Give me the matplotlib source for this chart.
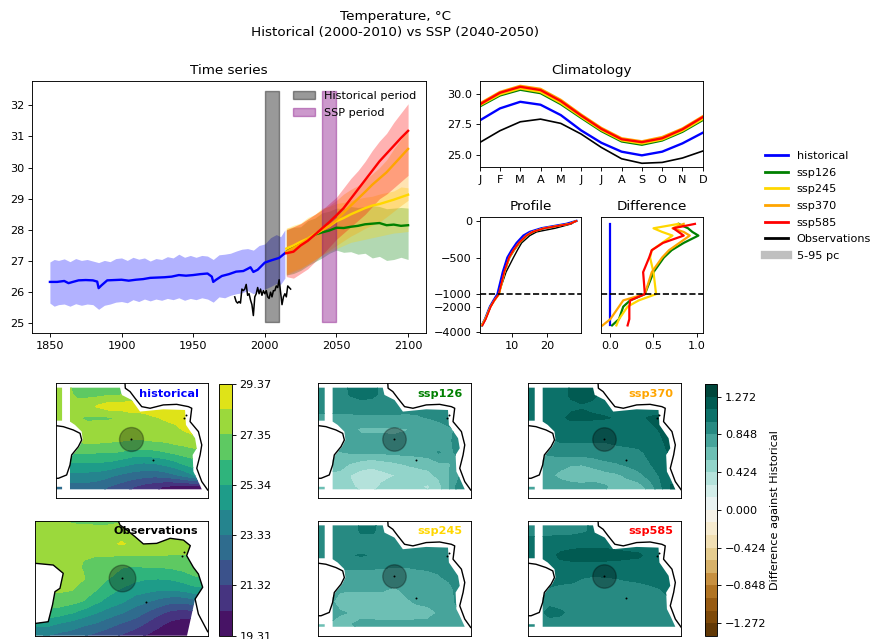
import numpy as np
import matplotlib
matplotlib.use('Agg')
import matplotlib.pyplot as plt
from matplotlib.path import Path
from matplotlib.lines import Line2D

W, H = 872, 639

# the reference was drawn at a bigger size and shrunk, so everything sits a bit under the defaults
plt.rcParams.update({
    'font.size': 8.1, 'axes.titlesize': 9.7, 'axes.linewidth': 0.65,
    'xtick.major.size': 2.8, 'ytick.major.size': 2.8, 'xtick.major.width': 0.65, 'ytick.major.width': 0.65,
    'xtick.major.pad': 2.8, 'ytick.major.pad': 2.8, 'axes.titlepad': 4.9,
})

scenarios = ['historical', 'ssp126', 'ssp245', 'ssp370', 'ssp585']
colors = {'historical': 'blue', 'ssp126': 'green', 'ssp245': 'gold', 'ssp370': 'orange', 'ssp585': 'red'}

# Time series
hist_years = [1850, 1855, 1860, 1863, 1866, 1870, 1875, 1880, 1883, 1884, 1886, 1890, 1895, 1900, 1905, 1910,
              1915, 1920, 1925, 1930, 1935, 1940, 1945, 1950, 1955, 1960, 1963, 1964, 1966, 1970, 1975, 1980,
              1985, 1988, 1990, 1992, 1995, 2000, 2005, 2010, 2014]
hist_mean = [26.33, 26.33, 26.36, 26.29, 26.33, 26.38, 26.39, 26.38, 26.34, 26.13, 26.22, 26.38, 26.39, 26.4, 26.37, 26.4,
             26.42, 26.46, 26.47, 26.48, 26.5, 26.55, 26.53, 26.55, 26.58, 26.6, 26.5, 26.33, 26.4, 26.52, 26.58, 26.66,
             26.68, 26.75, 26.8, 26.65, 26.72, 26.95, 27.03, 27.1, 27.25]
band_years = [1850, 1853, 1856, 1860, 1864, 1868, 1872, 1876, 1880, 1884, 1888, 1892, 1896, 1900, 1904, 1908, 1912,
              1916, 1920, 1924, 1928, 1932, 1936, 1940, 1944, 1948, 1952, 1956, 1960, 1964, 1968, 1972, 1976, 1980,
              1984, 1988, 1992, 1996, 2000, 2004, 2008, 2011, 2014]
hist_up = [26.97, 27.05, 27.02, 27.07, 26.98, 27.08, 27.02, 27.05, 27.0, 26.95, 27.02, 26.98, 27.08, 27.1, 27.02, 27.12, 27.06,
           27.1, 27.0, 27.08, 27.05, 27.14, 27.1, 27.22, 27.12, 27.18, 27.12, 27.18, 27.16, 27.05, 27.2, 27.22, 27.25, 27.32,
           27.38, 27.4, 27.35, 27.5, 27.55, 27.75, 27.85, 27.78, 28.0]
hist_low = [25.65, 25.55, 25.6, 25.62, 25.55, 25.63, 25.58, 25.62, 25.6, 25.45, 25.58, 25.62, 25.68, 25.7, 25.66, 25.76, 25.7,
            25.78, 25.72, 25.78, 25.74, 25.8, 25.76, 25.82, 25.74, 25.8, 25.76, 25.82, 25.78, 25.68, 25.85, 25.82, 25.9, 25.95,
            25.98, 26.05, 25.95, 26.05, 26.1, 26.18, 26.28, 26.25, 26.45]
ssp_years = [2015, 2020, 2025, 2030, 2035, 2040, 2045, 2050, 2055, 2060, 2065, 2070, 2075, 2080, 2085, 2090, 2095, 2100]
ssp_mean = {
    'ssp126': [27.3, 27.45, 27.55, 27.7, 27.85, 27.92, 27.98, 28.07, 28.06, 28.1, 28.13, 28.18, 28.2, 28.22, 28.15, 28.17, 28.13, 28.15],
    'ssp245': [27.4, 27.5, 27.62, 27.72, 27.87, 28.0, 28.12, 28.28, 28.38, 28.5, 28.6, 28.7, 28.78, 28.83, 28.9, 28.97, 29.05, 29.13],
    'ssp370': [27.3, 27.42, 27.55, 27.7, 27.85, 28.0, 28.13, 28.32, 28.55, 28.78, 29.0, 29.22, 29.45, 29.65, 29.85, 30.1, 30.35, 30.6],
    'ssp585': [27.25, 27.3, 27.5, 27.65, 27.85, 28.05, 28.25, 28.47, 28.7, 29.0, 29.3, 29.6, 29.9, 30.2, 30.45, 30.7, 30.95, 31.18],
}
ssp_up = {
    'ssp126': [28.0, 28.08, 28.1, 28.3, 28.38, 28.55, 28.6, 28.7, 28.68, 28.75, 28.72, 28.75, 28.78, 28.75, 28.68, 28.7, 28.72, 28.7],
    'ssp245': [28.05, 28.15, 28.22, 28.4, 28.5, 28.7, 28.75, 28.85, 28.88, 28.95, 29.0, 29.05, 29.08, 29.15, 29.2, 29.25, 29.38, 29.35],
    'ssp370': [28.05, 28.1, 28.2, 28.35, 28.5, 28.65, 28.78, 28.95, 29.15, 29.3, 29.42, 29.6, 29.8, 30.0, 30.25, 30.6, 30.9, 31.25],
    'ssp585': [28.0, 28.1, 28.2, 28.35, 28.5, 28.65, 28.85, 29.05, 29.35, 29.65, 29.9, 30.2, 30.55, 30.85, 31.1, 31.45, 31.75, 32.05],
}
ssp_low = {
    'ssp126': [26.55, 26.6, 26.7, 26.85, 26.98, 27.1, 27.25, 27.35, 27.28, 27.3, 27.22, 27.25, 27.1, 27.15, 27.02, 27.05, 27.12, 27.05],
    'ssp245': [26.6, 26.7, 26.78, 26.9, 27.05, 27.2, 27.3, 27.4, 27.5, 27.6, 27.65, 27.7, 27.75, 27.8, 27.85, 27.9, 27.92, 27.95],
    'ssp370': [26.55, 26.65, 26.75, 26.9, 27.05, 27.2, 27.35, 27.5, 27.65, 27.8, 27.92, 28.05, 28.15, 28.25, 28.42, 28.6, 28.78, 28.95],
    'ssp585': [26.5, 26.45, 26.6, 26.75, 26.98, 27.2, 27.45, 27.7, 27.9, 28.1, 28.3, 28.5, 28.75, 29.0, 29.15, 29.35, 29.55, 29.75],
}
obs_years = list(range(1979, 2019))
obs_series = [25.85, 25.7, 25.65, 25.7, 25.65, 26.1, 26.05, 26.1, 26.25, 25.9, 25.95, 25.75, 25.6, 25.25, 25.85, 25.95,
              26.15, 25.95, 26.1, 25.9, 26.05, 25.95, 26.05, 25.85, 25.8, 26.0, 25.85, 26.05, 26.05, 26.2, 26.15, 26.4,
              26.0, 25.6, 25.85, 25.95, 25.85, 26.2, 26.15, 26.1]
hist_period = [2000, 2010]
ssp_period = [2040, 2050]
period_bottom, period_top = 25.03, 32.45

# Climatology
months = ['J', 'F', 'M', 'A', 'M', 'J', 'J', 'A', 'S', 'O', 'N', 'D']
clim = {
    'historical': [27.81, 28.8, 29.34, 29.1, 28.25, 27.0, 25.98, 25.25, 24.95, 25.25, 25.93, 26.8],
    'ssp126': [28.96, 29.86, 30.33, 30.05, 29.15, 28.03, 26.94, 26.09, 25.82, 26.17, 26.88, 27.84],
    'ssp245': [29.05, 29.95, 30.43, 30.15, 29.25, 28.12, 27.03, 26.18, 25.92, 26.25, 26.97, 27.93],
    'ssp370': [29.2, 30.15, 30.65, 30.4, 29.5, 28.3, 27.2, 26.35, 26.1, 26.45, 27.15, 28.15],
    'ssp585': [29.12, 30.08, 30.57, 30.3, 29.4, 28.22, 27.12, 26.27, 26.03, 26.35, 27.08, 28.08],
}
clim_obs = [26.0, 26.97, 27.7, 27.92, 27.57, 26.7, 25.6, 24.67, 24.3, 24.37, 24.73, 25.3]

# Profiles
depth = [-40, -100, -150, -200, -300, -400, -500, -700, -1000, -1500, -2000, -3000, -3500]
prof_hist = [25.4, 18.4, 15.1, 13.3, 11.4, 10.0, 8.8, 7.5, 6.0, 4.9, 3.9, 2.5, 1.6]
prof_obs = [26.8, 22.2, 17.0, 15.1, 12.8, 11.6, 10.5, 8.4, 6.3, 5.0, 3.9, 2.5, 1.5]
surf_hist, surf_obs = 28.2, 28.0
diff = {
    'historical': [0, 0, 0, 0, 0, 0, 0, 0, 0, 0, 0, 0, 0],
    'ssp126': [0.79, 0.9, 0.95, 1.02, 0.85, 0.71, 0.62, 0.5, 0.4, 0.23, 0.15, 0.1, 0.02],
    'ssp245': [0.79, 0.5, 0.6, 0.72, 0.6, 0.48, 0.46, 0.5, 0.53, 0.33, 0.2, 0.1, 0.07],
    'ssp370': [0.85, 0.72, 0.85, 0.92, 0.8, 0.68, 0.6, 0.48, 0.4, 0.15, 0.1, 0.0, -0.09],
    'ssp585': [0.98, 0.73, 0.79, 0.85, 0.61, 0.48, 0.45, 0.38, 0.4, 0.23, 0.22, 0.22, 0.2],
}

# Map fields, rows run north to south on map_y
map_x = [0, .07, .14, .21, .28, .35, .42, .5, .58, .65, .72, .79, .86, .93, 1]
map_y = [1, .9, .8, .7, .6, .5, .4, .3, .2, .1, 0]
field_hist = [
    [27.5, 27.5, 27.1, 27.0, 27.0, 27.1, 27.2, 27.5, 27.9, 28.0, 28.0, 28.0, 28.0, 28.0, 28.0],
    [27.6, 27.6, 27.2, 27.1, 27.1, 27.3, 27.3, 27.6, 27.9, 28.0, 28.0, 28.0, 28.0, 28.0, 28.0],
    [27.7, 27.7, 27.7, 28.0, 28.5, 28.9, 28.9, 28.9, 28.9, 28.9, 28.9, 28.9, 28.9, 28.9, 28.9],
    [27.6, 27.6, 27.4, 27.25, 27.25, 27.25, 27.4, 27.9, 28.0, 28.3, 28.45, 28.6, 28.7, 28.7, 28.7],
    [27.3, 27.3, 27.5, 27.6, 27.7, 27.8, 27.9, 27.9, 28.0, 28.0, 28.1, 28.2, 28.5, 28.6, 28.6],
    [27.0, 27.0, 27.5, 27.6, 27.6, 27.5, 27.4, 27.3, 27.3, 27.4, 27.5, 27.7, 27.9, 28.2, 28.2],
    [26.4, 26.4, 26.5, 26.5, 26.4, 26.4, 26.3, 26.0, 26.0, 26.1, 26.3, 26.6, 26.8, 27.0, 27.0],
    [25.2, 25.2, 25.2, 25.2, 25.2, 25.1, 24.8, 24.4, 24.2, 24.3, 24.6, 25.0, 25.6, 26.0, 26.0],
    [24.0, 24.0, 24.0, 24.0, 23.9, 23.6, 23.2, 22.9, 22.7, 22.6, 22.8, 23.2, 23.8, 24.5, 24.5],
    [23.0, 23.0, 23.0, 22.9, 22.7, 22.3, 21.9, 21.4, 20.9, 20.6, 20.2, 20.0, 20.0, 20.0, 20.0],
    [22.6, 22.6, 22.6, 22.4, 22.2, 21.8, 21.3, 20.9, 20.5, 20.1, 19.8, 19.6, 19.5, 19.5, 19.5],
]
field_obs = [
    [27.6, 27.6, 27.5, 27.2, 27.1, 27.0, 27.0, 27.2, 27.9, 28.0, 28.0, 28.0, 28.0, 28.0, 28.0],
    [27.9, 27.9, 27.9, 27.9, 27.9, 28.0, 28.0, 28.2, 28.1, 28.0, 28.0, 28.0, 28.0, 28.0, 28.0],
    [27.8, 27.9, 28.0, 28.0, 28.0, 28.1, 28.2, 28.42, 28.2, 28.0, 28.0, 27.9, 27.8, 27.8, 27.8],
    [27.7, 27.7, 27.7, 27.7, 27.4, 27.4, 27.4, 27.4, 27.4, 27.4, 27.4, 27.3, 27.3, 27.3, 27.3],
    [27.5, 27.5, 27.6, 27.6, 27.3, 26.9, 26.7, 26.4, 26.3, 26.4, 26.4, 26.5, 26.7, 27.0, 27.0],
    [27.5, 27.5, 27.5, 27.6, 27.4, 26.9, 26.4, 26.0, 25.6, 25.4, 25.4, 25.5, 25.8, 26.2, 26.2],
    [27.5, 27.5, 27.5, 27.4, 27.0, 26.4, 25.8, 25.2, 24.8, 24.6, 24.4, 24.4, 24.6, 25.0, 25.0],
    [27.0, 27.0, 26.9, 26.7, 26.3, 25.6, 25.0, 24.5, 23.8, 23.4, 23.0, 22.6, 22.6, 23.0, 23.0],
    [26.0, 26.0, 25.8, 25.4, 24.9, 24.4, 23.9, 23.4, 22.8, 22.2, 21.5, 21.0, 20.8, 21.0, 21.0],
    [24.6, 24.6, 24.2, 23.9, 23.5, 23.2, 22.7, 22.2, 21.8, 21.1, 20.5, 20.0, 19.8, 19.8, 19.8],
    [23.4, 23.3, 23.0, 22.8, 22.4, 22.0, 21.7, 21.2, 20.6, 20.2, 19.8, 19.5, 19.4, 19.4, 19.4],
]
field_diff = {
    'ssp126': [
        [.92, .92, .92, 1.02, 1.04, 1.03, .95, .92, .9, .9, .9, .9, .9, .9, .9],
        [.92, .92, .92, 1.0, 1.04, 1.02, .96, .92, .9, .9, .9, .9, .9, .9, .9],
        [.9, .9, .9, .9, .92, .92, .9, .89, .88, .87, .87, .88, .88, .88, .88],
        [.82, .82, .82, .82, .82, .82, .83, .83, .83, .84, .85, .86, .87, .88, .88],
        [.78, .78, .76, .74, .68, .68, .68, .68, .7, .74, .78, .82, .84, .86, .86],
        [.75, .75, .76, .76, .76, .76, .75, .74, .74, .72, .72, .75, .82, .94, .94],
        [.66, .66, .7, .72, .74, .74, .74, .74, .76, .76, .78, .86, .78, .95, .95],
        [.58, .58, .6, .56, .5, .46, .5, .54, .58, .6, .62, .68, .7, .8, .8],
        [.56, .56, .54, .42, .36, .36, .38, .42, .46, .5, .52, .6, .7, .85, .85],
        [.58, .58, .5, .44, .4, .38, .45, .5, .48, .44, .4, .5, .7, .95, .95],
        [.56, .56, .52, .48, .46, .46, .5, .52, .52, .5, .5, .55, .7, .9, .9],
    ],
    'ssp245': [
        [.92, .92, .92, .93, 1.02, 1.02, .96, .92, .9, .9, .9, .9, .9, .9, .9],
        [.92, .92, .92, .93, 1.0, 1.0, .96, .92, .9, .9, .9, .9, .9, .9, .9],
        [.9, .9, .9, .9, .9, .9, .9, .9, .9, .9, .9, .9, .9, .9, .9],
        [.9, .9, .9, .98, 1.0, .98, .9, .89, .89, .89, .89, .89, .9, .9, .9],
        [.87, .87, .86, .86, .86, .86, .86, .85, .85, .86, .87, .88, .88, .88, .88],
        [.8, .8, .8, .8, .8, .8, .78, .78, .79, .8, .8, .83, .87, .9, .9],
        [.76, .76, .72, .72, .72, .72, .72, .68, .75, .78, .78, .78, .8, .92, .92],
        [.74, .74, .66, .62, .62, .62, .62, .64, .68, .74, .76, .76, .8, .9, .9],
        [.76, .76, .72, .7, .66, .62, .6, .6, .6, .62, .64, .72, .78, .85, .85],
        [.7, .7, .66, .7, .74, .76, .76, .76, .76, .76, .76, .74, .74, .76, .76],
        [.66, .66, .64, .66, .68, .7, .7, .7, .7, .7, .7, .7, .7, .72, .72],
    ],
    'ssp370': [
        [1.05, 1.05, 1.05, 1.08, 1.14, 1.16, 1.15, 1.08, 1.05, 1.05, 1.05, 1.05, 1.05, 1.05, 1.05],
        [1.05, 1.05, 1.05, 1.08, 1.15, 1.17, 1.16, 1.08, 1.05, 1.05, 1.05, 1.05, 1.05, 1.05, 1.05],
        [1.04, 1.04, 1.04, 1.07, 1.1, 1.12, 1.1, 1.08, 1.07, 1.06, 1.05, 1.05, 1.05, 1.05, 1.05],
        [1.02, 1.02, 1.04, 1.1, 1.16, 1.16, 1.15, 1.14, 1.12, 1.1, 1.1, 1.14, 1.16, 1.15, 1.15],
        [1.0, 1.0, 1.02, 1.04, 1.05, 1.05, 1.05, 1.05, 1.06, 1.06, 1.08, 1.1, 1.14, 1.15, 1.15],
        [.95, .95, .97, 1.0, 1.0, 1.0, 1.0, 1.0, 1.02, 1.03, 1.05, 1.08, 1.1, 1.2, 1.2],
        [.86, .86, .88, .92, .92, .92, .92, .92, .94, .95, .96, 1.02, 1.08, 1.15, 1.15],
        [.74, .74, .76, .74, .72, .72, .76, .82, .84, .88, .92, .98, 1.04, 1.08, 1.08],
        [.72, .72, .72, .68, .62, .58, .6, .64, .68, .74, .8, .9, 1.0, 1.1, 1.1],
        [.72, .72, .74, .75, .76, .76, .78, .72, .65, .62, .64, .75, .95, 1.14, 1.14],
        [.66, .66, .68, .7, .72, .72, .72, .7, .68, .66, .66, .72, .9, 1.1, 1.1],
    ],
    'ssp585': [
        [.93, .93, .95, .97, .95, .97, 1.0, 1.04, 1.05, 1.05, 1.05, 1.05, 1.05, 1.05, 1.05],
        [.96, .96, .96, .96, .96, .98, 1.0, 1.04, 1.05, 1.05, 1.05, 1.05, 1.05, 1.05, 1.05],
        [1.04, 1.04, 1.05, 1.07, 1.08, 1.1, 1.1, 1.1, 1.08, 1.07, 1.06, 1.05, 1.05, 1.05, 1.05],
        [1.05, 1.05, 1.08, 1.16, 1.18, 1.18, 1.18, 1.18, 1.17, 1.16, 1.15, 1.1, 1.06, 1.05, 1.05],
        [1.04, 1.04, 1.05, 1.08, 1.08, 1.08, 1.08, 1.08, 1.08, 1.07, 1.07, 1.06, 1.05, 1.05, 1.05],
        [1.02, 1.02, 1.02, 1.02, 1.02, .99, .97, .98, .99, 1.0, 1.01, 1.03, 1.06, 1.1, 1.1],
        [.99, .99, .98, .96, .95, .95, .95, .95, .95, .95, .95, .96, .98, 1.05, 1.05],
        [.97, .97, .97, .96, .95, .95, .95, .95, .95, .95, .95, .95, .96, .97, .97],
        [.97, .97, 1.01, 1.0, .97, .95, .95, .95, .95, .95, .95, .95, .95, .95, .95],
        [.95, .95, .96, .96, .95, .95, .95, .95, .95, .95, .95, .95, .95, .95, .95],
        [.95, .95, .95, .95, .95, .95, .95, .95, .95, .95, .95, .95, .95, .95, .95],
    ],
}
abs_ticks = [19.31, 21.32, 23.33, 25.34, 27.35, 29.37]
diff_ticks = [-1.272, -0.848, -0.424, 0.0, 0.424, 0.848, 1.272]
diff_ticklabels = ['\u22121.272', '\u22120.848', '\u22120.424', '0.000', '0.424', '0.848', '1.272']

# Coastlines and the model ocean mask, as fractions of the map box
africa = [(.456, 1), (.458, .957), (.489, .928), (.522, .87), (.566, .797), (.621, .783), (.708, .812), (.796, .817),
          (.873, .797), (.895, .783), (.884, .667), (.939, .58), (.961, .464), (.95, .377), (.928, .261), (.961, .145), (1, .072)]
america = [(0, .632), (.05, .623), (.116, .594), (.16, .565), (.171, .507), (.149, .449), (.105, .377), (.094, .29),
           (.072, .203), (.018, .174), (0, .174)]
africa_obs = [(.482, 1), (.491, .965), (.53, .922), (.578, .864), (.627, .8), (.704, .805), (.782, .849), (.859, .834),
              (.899, .785), (.878, .698), (.917, .596), (.946, .538), (.971, .422), (.927, .32), (.946, .189), (1, .035)]
america_obs = [(0, .631), (.104, .616), (.162, .544), (.143, .413), (.114, .384), (.1, .27), (.075, .122), (0, .107)]
ocean_main = [(.094, .962), (.423, .962), (.434, .899), (.5, .855), (.555, .754), (.708, .774), (.851, .768), (.857, .638),
              (.917, .522), (.928, .435), (.901, .377), (.906, .232), (.928, .174), (.961, .078), (.094, .078), (.094, .333),
              (.112, .377), (.156, .449), (.178, .507), (.171, .58), (.127, .638), (.094, .667)]
ocean_strip_n = [(0, .962), (.042, .962), (.042, .675), (0, .675)]
ocean_strip_s = [(0, .1), (.042, .1), (.042, .078), (0, .078)]
ocean_obs = [(0, 1), (.482, 1)] + africa_obs[1:14] + [(.88, 0), (0, 0)] + america_obs[::-1]
site_x, site_y = [.495, .638, .844, .855], [.518, .333, .696, .725]
site_obs_x, site_obs_y = [.5, .642, .849, .863], [.5, .29, .695, .733]


def px_axes(fig, x0, y0, x1, y1):
    # pixel box measured from the top left of the picture
    return fig.add_axes([x0 / W, 1 - y1 / H, (x1 - x0) / W, (y1 - y0) / H])


def depth_fwd(y):
    y = np.asarray(y, dtype=float)
    return np.where(y >= -1000, y, -1000 + (y + 1000) / 5.84)


def depth_inv(y):
    y = np.asarray(y, dtype=float)
    return np.where(y >= -1000, y, -1000 + (y + 1000) * 5.84)


def draw_map(fig, box, field, levels, cmap, label, color, ocean, coast, sites, size):
    ax = px_axes(fig, *box)
    cs = ax.contourf(map_x, map_y, np.array(field), levels=levels, cmap=cmap)
    verts, codes = [], []
    for poly in ocean:
        verts += list(poly) + [poly[0]]
        codes += [Path.MOVETO] + [Path.LINETO] * (len(poly) - 1) + [Path.CLOSEPOLY]
    cs.set_clip_path(Path(verts, codes), ax.transData)
    for line in coast:
        ax.plot(*zip(*line), color='k', lw=1.0)
    ax.scatter(sites[0][:1], sites[1][:1], s=size, color='k', alpha=0.3, zorder=3)
    ax.scatter(sites[0], sites[1], s=2, color='k', linewidths=0, zorder=4)
    ax.text(0.945, 0.91, label, color=color, fontweight='bold', ha='right', va='center', transform=ax.transAxes, zorder=5)
    ax.set_xlim(0, 1)
    ax.set_ylim(0, 1)
    ax.set_xticks([])
    ax.set_yticks([])
    return cs


fig = plt.figure(figsize=(W / 100, H / 100), dpi=100)
fig.suptitle('Temperature, \u00b0C\nHistorical (2000-2010) vs SSP (2040-2050)', x=395.5 / W, y=0.984, fontsize=9.7,
             linespacing=1.3)

# Time series panel
ax = px_axes(fig, 32, 81, 426, 333)
ax.fill_between(band_years, hist_low, hist_up, color='blue', alpha=0.3, linewidth=0)
for s in scenarios[1:]:
    ax.fill_between(ssp_years, ssp_low[s], ssp_up[s], color=colors[s], alpha=0.3, linewidth=0)
ax.plot(hist_years, hist_mean, color='blue', lw=1.7)
for s in scenarios[1:]:
    ax.plot(ssp_years, ssp_mean[s], color=colors[s], lw=1.7)
ax.plot(obs_years, obs_series, color='k', lw=1.1)
ax.fill_between(hist_period, period_bottom, period_top, color='k', alpha=0.4, label='Historical period')
ax.fill_between(ssp_period, period_bottom, period_top, color='purple', alpha=0.4, label='SSP period')
ax.set_xlim(1837.5, 2112.5)
ax.set_ylim(24.69, 32.78)
ax.set_title('Time series')
ax.legend(loc='upper right', frameon=False, labelspacing=0.59, bbox_to_anchor=(1.002, 1))

# Climatology
ax = px_axes(fig, 479.7, 80.7, 702.7, 167.3)
for s in scenarios:
    ax.plot(range(12), clim[s], color=colors[s], lw=1.7)
ax.plot(range(12), clim_obs, color='k', lw=1.2)
ax.set_xlim(0, 11)
ax.set_ylim(23.97, 31.07)
ax.set_xticks(range(12))
ax.set_xticklabels(months)
ax.set_yticks([25, 27.5, 30])
ax.set_title('Climatology')

# Profile and difference share the stretched depth axis
ax1 = px_axes(fig, 479.7, 217.3, 581, 333.3)
ax2 = px_axes(fig, 601, 217.3, 702.7, 333.3)
ax1.plot([surf_obs] + prof_obs, [0] + depth, color='k', lw=1.0)
ax1.plot([surf_hist] + prof_hist, [0] + depth, color='blue', lw=1.7)
for s in scenarios[1:]:
    ax1.plot([surf_hist] + list(np.array(prof_hist) + np.array(diff[s])), [0] + depth, color=colors[s], lw=1.2)
for s in scenarios:
    ax2.plot(diff[s], depth, color=colors[s], lw=1.6)
for a in (ax1, ax2):
    a.axhline(-1000, color='k', ls='--', lw=1.2)
    a.set_yscale('function', functions=(depth_fwd, depth_inv))
    a.set_ylim(-4130, 50)
    a.set_yticks([0, -500, -1000, -2000, -4000])
ax2.set_yticklabels([])
ax2.tick_params(axis='y', left=False)
ax1.set_xlim(1.0, 29.5)
ax1.set_xticks([10, 20])
ax2.set_xlim(-0.108, 1.07)
ax2.set_xticks([0, 0.5, 1])
ax1.set_title('Profile')
ax2.set_title('Difference')

# Legend on the right
handles = [Line2D([], [], color=colors[s], lw=2) for s in scenarios]
handles += [Line2D([], [], color='k', lw=2), Line2D([], [], color='gray', lw=6, alpha=0.5)]
fig.legend(handles, scenarios + ['Observations', '5-95 pc'], loc='upper left', bbox_to_anchor=(755 / W, 1 - 141 / H),
           frameon=False, labelspacing=0.59)

# Maps
abs_levels = np.linspace(19.31, 29.37, 11)
diff_levels = np.linspace(-1.4133, 1.4133, 21)
model_ocean = [ocean_main, ocean_strip_n, ocean_strip_s]
model_coast = [africa, america]
cs_abs = draw_map(fig, (55.7, 383.3, 207.7, 498.3), field_hist, abs_levels, 'viridis', 'historical', 'blue',
                  model_ocean, model_coast, (site_x, site_y), 298)
draw_map(fig, (35.3, 521, 207.7, 635.7), field_obs, abs_levels, 'viridis', 'Observations', 'k',
         [ocean_obs], [africa_obs, america_obs], (site_obs_x, site_obs_y), 369)
boxes = {'ssp126': (318.3, 383.3, 470.7, 498.3), 'ssp245': (318.3, 521, 470.7, 635.7),
         'ssp370': (528.3, 383.3, 681.3, 498.3), 'ssp585': (528.3, 521, 681.3, 635.7)}
for s in scenarios[1:]:
    cs_diff = draw_map(fig, boxes[s], field_diff[s], diff_levels, 'BrBG', s, colors[s],
                       model_ocean, model_coast, (site_x, site_y), 285)

cb = fig.colorbar(cs_abs, cax=px_axes(fig, 219.3, 384, 231.7, 635.7), ticks=abs_ticks)
cb.ax.set_yticklabels(['%.2f' % t for t in abs_ticks])
cb = fig.colorbar(cs_diff, cax=px_axes(fig, 705, 384, 717.3, 635.7), ticks=diff_ticks)
cb.ax.set_yticklabels(diff_ticklabels)
cb.set_label('Difference against Historical', labelpad=2.5)

fig.savefig('out.png', dpi=100)
